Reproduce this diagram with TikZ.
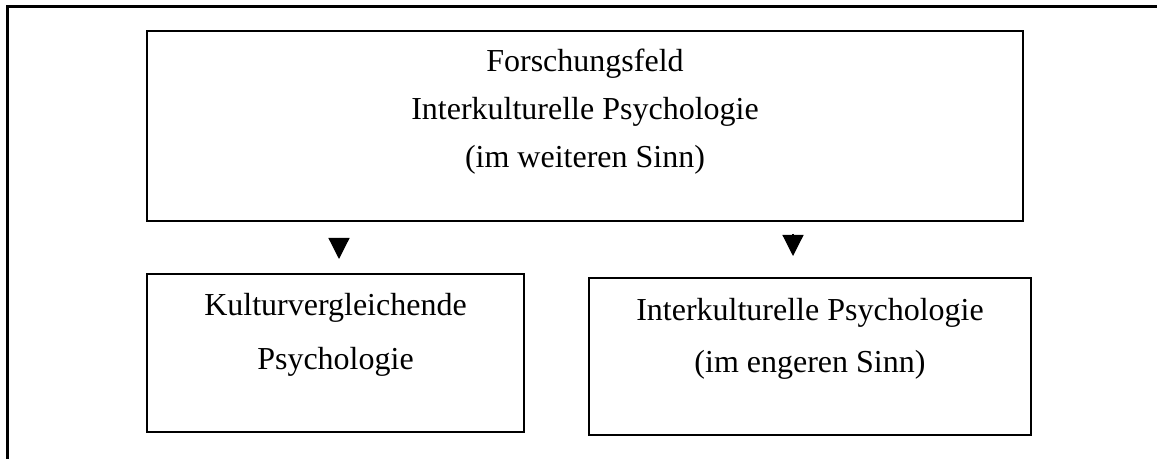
\documentclass[tikz,border=0pt]{standalone}
\usepackage{fontspec}
\setmainfont{Liberation Serif}
\usetikzlibrary{arrows.meta}

\begin{document}
\begin{tikzpicture}[x=0.5pt,y=-0.5pt,
  box/.style={draw,line width=1pt,align=center,inner sep=0pt},
  pfeil/.style={-{Triangle[width=10.5pt,length=10.5pt]},line width=0.6pt}]

\useasboundingbox (0,0) rectangle (1157,459);
\draw[line width=1.5pt] (1157,7) -- (7,7) -- (7,459);

\node[box,minimum width=438pt,minimum height=95pt,text depth=17.5pt,
  font=\fontsize{16}{24}\selectfont] (feld) at (585,126)
  {Forschungsfeld\\Interkulturelle Psychologie\\(im weiteren Sinn)};
\node[box,minimum width=188.5pt,minimum height=79pt,text depth=22pt,
  font=\fontsize{16}{27}\selectfont] (kvp) at (335.5,353)
  {Kulturvergleichende\\Psychologie};
\node[box,minimum width=221pt,minimum height=78.5pt,text depth=21.5pt,
  font=\fontsize{16}{26}\selectfont] (ikp) at (810,356.5)
  {Interkulturelle Psychologie\\(im engeren Sinn)};

% Pfeile
\coordinate (p1) at (339,238);
\coordinate (p1e) at (339,259);
\coordinate (p2) at (793,234);
\coordinate (p2e) at (793,256);
\draw[pfeil] (p1) -- (p1e);
\draw[pfeil] (p2) -- (p2e);

\end{tikzpicture}
\end{document}
